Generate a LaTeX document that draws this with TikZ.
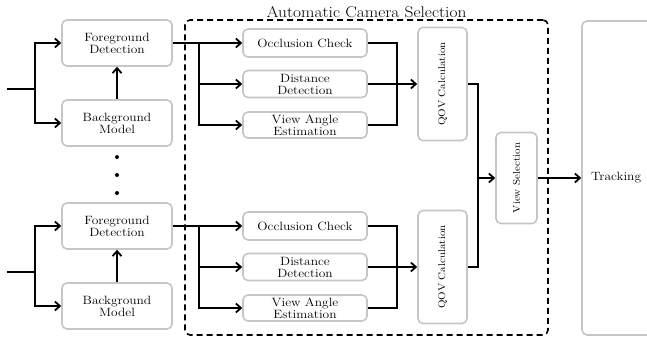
\documentclass[tikz,border=0pt]{standalone}
\usepackage{fontspec}
\setmainfont{Latin Modern Roman}[FakeStretch=1.12]
\usepackage{graphicx}
\usetikzlibrary{arrows.meta}
\definecolor{boxgray}{RGB}{198,198,198}

\begin{document}
\begin{tikzpicture}[x=1pt,y=-1pt,
        box/.style={draw=boxgray, line width=1.6pt, rounded corners=5pt, align=center,
            inner sep=1pt, font=\fontsize{12}{12}\selectfont},
        line/.style={line width=1.8pt},
        arr/.style={line, -{Straight Barb[length=5pt,width=9pt]}}]
        \useasboundingbox (0,0) rectangle (647,343);
        % camera selection frame
        \node[draw, line width=1.6pt, dash pattern=on 6pt off 4pt, rounded corners=5pt,
            minimum width=363, minimum height=315] (acs) at (366.5,177.5) {};
        \node[above, inner sep=1.5pt, font=\fontsize{15.5}{16}\selectfont] (title) at (acs.north) {Automatic Camera Selection};
        % left column
        \foreach \n/\y in {1/0,2/183}{
        \node[box, minimum width=110, minimum height=46] (fg\n) at (117,43+\y) {Foreground\\Detection};
        \node[box, minimum width=110, minimum height=46] (bg\n) at (117,123+\y) {Background\\Model};
        \coordinate (in\n) at (7,89+\y);
        \coordinate (sp\n) at (35,89+\y);
        \draw[line] (in\n) -- (sp\n);
        \draw[arr] (sp\n) |- (fg\n.west);
        \draw[arr] (sp\n) |- (bg\n.west);
        \draw[arr] (bg\n) -- (fg\n);
        }
        \foreach \y in {157,175,193}
        \fill (117,\y) circle (2);
        % cues and QOV
        \foreach \n/\y in {1/0,2/183}{
        \node[box, minimum width=124, minimum height=28] (oc\n) at (305,43+\y) {Occlusion Check};
        \node[box, minimum width=124, minimum height=27] (dd\n) at (305,84+\y) {Distance\\Detection};
        \node[box, minimum width=124, minimum height=26] (va\n) at (305,125+\y) {View Angle\\Estimation};
        \node[box, minimum width=49, minimum height=113] (qov\n) at (442.5,84+\y)
            {\rotatebox{90}{\fontsize{9.8}{10}\selectfont QOV Calculation}};
        \coordinate (br\n) at (199,43+\y);
        \coordinate (jn\n) at (397,84+\y);
        \draw[arr] (fg\n.east) -- (oc\n.west);
        \draw[arr] (br\n) |- (dd\n.west);
        \draw[arr] (br\n) |- (va\n.west);
        \draw[line] (oc\n.east) -| (jn\n);
        \draw[line] (va\n.east) -| (jn\n);
        \draw[arr] (dd\n.east) -- (qov\n.west);
        }
        % view selection and tracking
        \node[box, minimum width=41, minimum height=91] (vs) at (516.5,178)
            {\rotatebox{90}{\fontsize{9.8}{10}\selectfont View Selection}};
        \node[box, minimum width=80, minimum height=314, text width=62, inner xsep=9pt,
            align=left] (track) at (622,178) {Tracking};
        \coordinate (jn3) at (478,178);
        \draw[line] (qov1.east) -| (jn3);
        \draw[line] (qov2.east) -| (jn3);
        \draw[arr] (jn3) -- (vs.west);
        \draw[arr] (vs.east) -- (track.west);
    \end{tikzpicture}
\end{document}
